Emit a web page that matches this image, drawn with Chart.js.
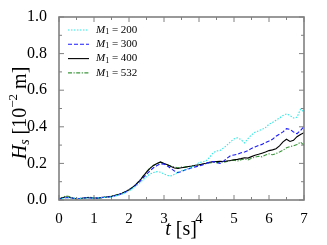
<!DOCTYPE html>
<html>
<head>
<meta charset="utf-8">
<style>
  html, body { margin: 0; padding: 0; background: #fff; }
  #wrap { width: 327px; height: 245px; }
</style>
<script src="https://cdn.jsdelivr.net/npm/chart.js@4/dist/chart.umd.min.js"></script>
</head>
<body>
<div id="wrap"><canvas id="myChart" width="327" height="245"></canvas></div>
<script>
// time axis [s]
var times = [0.0,0.1,0.2,0.3,0.4,0.5,0.6,0.7,0.8,0.9,
             1.0,1.1,1.2,1.3,1.4,1.5,1.6,1.7,1.8,1.9,
             2.0,2.1,2.2,2.3,2.4,2.5,2.6,2.7,2.8,2.9,
             3.0,3.1,3.2,3.3,3.4,3.5,3.6,3.7,3.8,3.9,
             4.0,4.1,4.2,4.3,4.4,4.5,4.6,4.7,4.8,4.9,
             5.0,5.1,5.2,5.3,5.4,5.5,5.6,5.7,5.8,5.9,
             6.0,6.1,6.2,6.3,6.4,6.5,6.6,6.7,6.8,6.9,7.0];

// H_s [10^-2 m]
var hs200 = [.002,.008,.012,.012,.010,.009,.009,.010,.011,.011,
             .010,.011,.012,.014,.015,.017,.021,.026,.032,.040,
             .050,.062,.076,.092,.110,.128,.142,.150,.155,.152,
             .142,.134,.132,.140,.152,.160,.166,.172,.180,.192,
             .204,.208,.214,.232,.258,.268,.270,.284,.300,.318,
             .334,.340,.330,.312,.336,.356,.370,.378,.386,.396,
             .414,.424,.436,.448,.462,.470,.462,.448,.452,.496,.482];
var hs300 = [.003,.010,.014,.013,.010,.008,.009,.011,.012,.011,
             .010,.011,.013,.015,.016,.018,.023,.028,.035,.043,
             .053,.066,.081,.099,.119,.140,.160,.176,.188,.198,
             .196,.186,.172,.158,.150,.156,.164,.170,.176,.181,
             .186,.192,.200,.206,.210,.205,.200,.212,.228,.242,
             .246,.250,.258,.262,.270,.282,.290,.298,.304,.314,
             .322,.332,.348,.360,.372,.390,.386,.372,.362,.380,.402];
var hs400 = [.003,.012,.016,.014,.010,.007,.008,.011,.013,.012,
             .010,.010,.013,.015,.017,.020,.025,.030,.037,.045,
             .056,.069,.085,.104,.128,.152,.173,.189,.199,.208,
             .200,.192,.183,.175,.172,.176,.179,.183,.186,.190,
             .193,.197,.201,.206,.209,.210,.211,.210,.213,.216,
             .220,.222,.226,.231,.229,.237,.245,.250,.256,.262,
             .270,.274,.280,.296,.318,.332,.320,.326,.346,.358,.368];
var hs532 = [.004,.016,.022,.019,.011,.005,.006,.010,.014,.015,
             .011,.009,.013,.016,.018,.021,.026,.031,.038,.046,
             .057,.070,.086,.106,.130,.155,.175,.190,.198,.206,
             .198,.191,.185,.180,.176,.180,.182,.181,.185,.188,
             .191,.195,.199,.202,.205,.204,.207,.206,.211,.215,
             .218,.213,.220,.224,.219,.228,.234,.239,.236,.246,
             .252,.247,.254,.262,.272,.285,.292,.296,.303,.316,.300];

var legendValues = ['200', '300', '400', '532'];
var xTicks = [0, 1, 2, 3, 4, 5, 6, 7];
var yTicks = [0.0, 0.2, 0.4, 0.6, 0.8, 1.0];

function pts(vals) {
    return vals.map(function (v, i) { return { x: times[i], y: v }; });
}

var serif = "'Liberation Serif', 'Times New Roman', serif";

// draws text pieces one after another: [text, size, italic, dy]
function drawPieces(ctx, pieces, x, y) {
    var cx = x;
    pieces.forEach(function (p) {
        ctx.font = (p[2] ? 'italic ' : '') + p[1] + 'px ' + serif;
        ctx.fillText(p[0], cx, y + (p[3] || 0));
        cx += ctx.measureText(p[0]).width;
    });
    return cx - x;
}
function piecesWidth(ctx, pieces) {
    var w = 0;
    pieces.forEach(function (p) {
        ctx.font = (p[2] ? 'italic ' : '') + p[1] + 'px ' + serif;
        w += ctx.measureText(p[0]).width;
    });
    return w;
}

var decor = {
    id: 'decor',
    afterDraw: function (chart) {
        var ctx = chart.ctx, a = chart.chartArea;
        var xs = chart.scales.x, ys = chart.scales.y;
        ctx.save();
        // frame
        ctx.strokeStyle = '#808080';
        ctx.lineWidth = 1.6;
        ctx.strokeRect(a.left, a.top, a.right - a.left, a.bottom - a.top);
        // inward ticks
        ctx.lineWidth = 1;
        ctx.beginPath();
        for (var k = 0; k <= 14; k++) {
            var px = xs.getPixelForValue(k * 0.5);
            var len = (k % 2 === 0) ? 5 : 3;
            ctx.moveTo(px, a.bottom); ctx.lineTo(px, a.bottom - len);
            ctx.moveTo(px, a.top); ctx.lineTo(px, a.top + len);
        }
        for (var j = 0; j <= 10; j++) {
            var py = ys.getPixelForValue(j * 0.1);
            var len2 = (j % 2 === 0) ? 5 : 3;
            ctx.moveTo(a.left, py); ctx.lineTo(a.left + len2, py);
            ctx.moveTo(a.right, py); ctx.lineTo(a.right - len2, py);
        }
        ctx.stroke();

        // legend
        ctx.fillStyle = '#000';
        ctx.textBaseline = 'middle';
        ctx.textAlign = 'left';
        chart.data.datasets.forEach(function (ds, i) {
            var ly = 30 + i * 14.3;
            ctx.strokeStyle = ds.borderColor;
            ctx.lineWidth = ds.borderWidth;
            ctx.setLineDash(ds.borderDash || []);
            ctx.beginPath();
            ctx.moveTo(68, ly); ctx.lineTo(89, ly);
            ctx.stroke();
            ctx.setLineDash([]);
            drawPieces(ctx, [['M', 11, true], ['1', 8, false, 2], [' = ' + legendValues[i], 11, false]], 96, ly);
        });

        // y title, rotated
        var yt = [['H', 20, true], ['s', 14, true, 4], [' [10', 20, false], ['\u22122', 13, false, -7], [' m]', 20, false]];
        ctx.save();
        ctx.translate(21, 113);
        ctx.rotate(-Math.PI / 2);
        drawPieces(ctx, yt, -piecesWidth(ctx, yt) / 2, 0);
        ctx.restore();

        // x title
        var xt = [['t', 20, true], [' [s]', 20, false]];
        drawPieces(ctx, xt, 181 - piecesWidth(ctx, xt) / 2, 230);
        ctx.restore();
    }
};

var ctx = document.getElementById('myChart').getContext('2d');
var chart = new Chart(ctx, {
    type: 'scatter',
    data: {
        datasets: [{
            label: 'M1 = 200',
            data: pts(hs200),
            borderColor: '#30e8e8',
            borderWidth: 1.1,
            borderDash: [1.5, 1.5]
        }, {
            label: 'M1 = 300',
            data: pts(hs300),
            borderColor: '#1a1aff',
            borderWidth: 1.1,
            borderDash: [4, 2]
        }, {
            label: 'M1 = 400',
            data: pts(hs400),
            borderColor: '#000000',
            borderWidth: 1.1
        }, {
            label: 'M1 = 532',
            data: pts(hs532),
            borderColor: '#3c963c',
            borderWidth: 1.1,
            borderDash: [4, 1.5, 1.2, 1.5]
        }]
    },
    options: {
        responsive: false,
        animation: false,
        showLine: true,
        elements: { point: { radius: 0 }, line: { tension: 0 } },
        layout: { padding: { top: 17, right: 23, left: 0, bottom: 0 } },
        plugins: { legend: { display: false }, tooltip: { enabled: false } },
        scales: {
            x: {
                type: 'linear', min: 0, max: 7,
                grid: { display: false },
                border: { display: false },
                afterBuildTicks: function (s) { s.ticks = xTicks.map(function (v) { return { value: v }; }); },
                afterFit: function (s) { s.height = 45; },
                ticks: { color: '#000', padding: 2, maxRotation: 0, font: { family: serif, size: 15 } }
            },
            y: {
                min: 0, max: 1,
                grid: { display: false },
                border: { display: false },
                afterBuildTicks: function (s) { s.ticks = yTicks.map(function (v) { return { value: v }; }); },
                afterFit: function (s) { s.width = 59; },
                ticks: {
                    color: '#000', padding: 4,
                    font: { family: serif, size: 16 },
                    callback: function (v) { return Number(v).toFixed(1); }
                }
            }
        }
    },
    plugins: [decor]
});
</script>
</body>
</html>
